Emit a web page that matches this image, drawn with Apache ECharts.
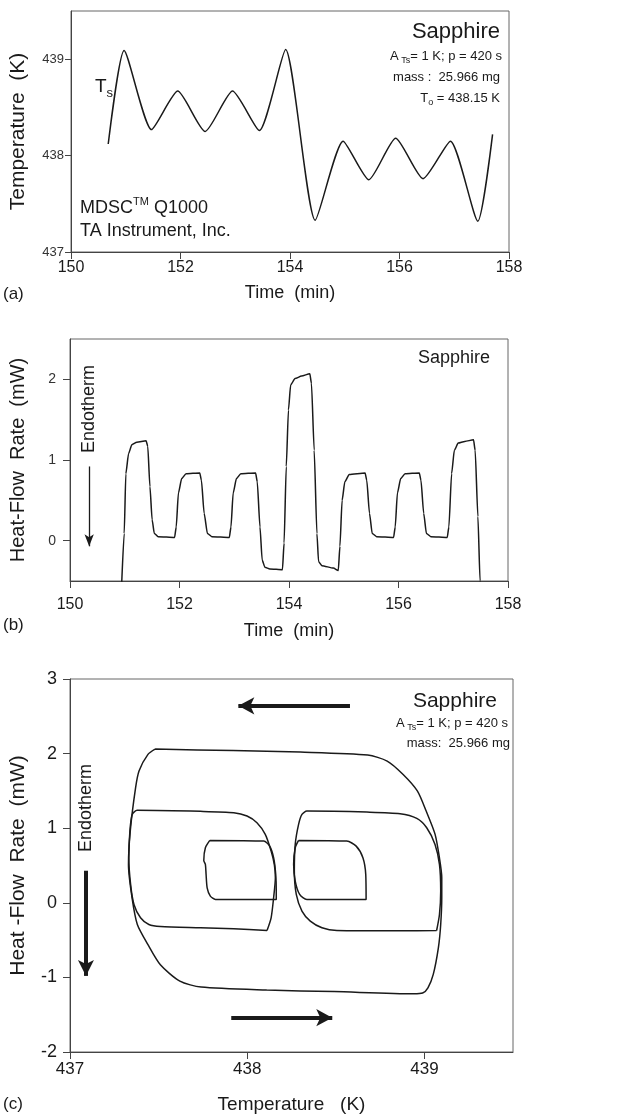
<!DOCTYPE html>
<html>
<head>
<meta charset="utf-8">
<script src="https://cdn.jsdelivr.net/npm/echarts@6/dist/echarts.min.js"></script>
<style>
html, body { margin: 0; padding: 0; background: #fff; }
#chart { width: 628px; height: 1118px; }
</style>
</head>
<body>
<div id="chart"></div>
<script>
//== (a) sample temperature Ts vs time
var tsTime = [150.68, 150.97, 151.47, 151.95, 152.45, 152.95, 153.44, 153.92, 154.46, 154.97, 155.44, 155.93, 156.43, 156.93, 157.43, 157.70];
var tsTemp = [438.12, 439.09, 438.27, 438.67, 438.25, 438.67, 438.26, 439.10, 437.33, 438.15, 437.75, 438.18, 437.76, 438.15, 437.32, 438.22];

//== (b) heat-flow rate vs time
var hfTime = [150.94, 150.99, 151.02, 151.07, 151.13, 151.22, 151.39, 151.42, 151.46, 151.50, 151.54, 151.61, 151.91,
    151.94, 151.98, 152.04, 152.12, 152.37, 152.40, 152.45, 152.51, 152.59, 152.91,
    152.94, 152.98, 153.04, 153.12, 153.39, 153.42, 153.47, 153.51, 153.56, 153.65, 153.88,
    153.91, 153.95, 153.99, 154.03, 154.11, 154.23, 154.38, 154.41, 154.46, 154.51, 154.54, 154.60, 154.81, 154.90,
    154.93, 154.97, 155.02, 155.10, 155.39, 155.42, 155.47, 155.52, 155.60, 155.91,
    155.94, 155.98, 156.04, 156.12, 156.38, 156.41, 156.46, 156.51, 156.59, 156.89,
    156.92, 156.97, 157.02, 157.09, 157.21, 157.37, 157.40, 157.45, 157.49, 157.50];
var hfRate = [-0.60, 0.09, 0.83, 1.08, 1.19, 1.22, 1.24, 1.17, 0.67, 0.26, 0.09, 0.05, 0.04,
    0.17, 0.59, 0.77, 0.83, 0.84, 0.75, 0.34, 0.09, 0.05, 0.04,
    0.17, 0.59, 0.77, 0.83, 0.84, 0.73, 0.17, -0.24, -0.33, -0.35, -0.36,
    -0.03, 0.92, 1.62, 1.93, 2.01, 2.04, 2.07, 1.95, 1.12, 0.09, -0.26, -0.31, -0.34, -0.37,
    -0.07, 0.50, 0.73, 0.82, 0.84, 0.75, 0.34, 0.09, 0.05, 0.04,
    0.17, 0.59, 0.77, 0.83, 0.84, 0.75, 0.34, 0.09, 0.05, 0.04,
    0.17, 0.83, 1.12, 1.21, 1.23, 1.25, 1.12, 0.30, -0.50, -0.65];

//== (c) heat-flow rate vs sample temperature, one pair of arrays per loop
var outerT = [437.48, 437.92, 438.30, 438.68, 438.79, 438.88, 438.96, 439.01, 439.06, 439.085, 439.098, 439.098, 439.092, 439.079, 439.05, 439.02, 438.99, 438.94, 438.49, 438.11, 437.74, 437.62, 437.51, 437.44, 437.38, 437.35, 437.33, 437.34, 437.37, 437.39, 437.44, 437.48];
var outerHF = [2.06, 2.04, 2.02, 1.98, 1.90, 1.72, 1.50, 1.23, 0.92, 0.60, 0.34, 0.07, -0.29, -0.60, -0.96, -1.14, -1.21, -1.22, -1.19, -1.17, -1.13, -1.05, -0.83, -0.56, -0.29, 0.07, 0.51, 0.96, 1.54, 1.77, 1.99, 2.06];

var midLeftT = [438.112, 438.135, 438.149, 438.159, 438.153, 438.135, 438.102, 438.055, 437.999, 437.924, 437.736, 437.379, 437.351, 437.338, 437.332, 437.342, 437.361, 437.398, 437.445, 437.511, 437.736, 437.924, 438.112];
var midLeftHF = [-0.371, -0.201, 0.067, 0.335, 0.514, 0.693, 0.917, 1.073, 1.163, 1.208, 1.226, 1.239, 1.185, 0.962, 0.604, 0.246, -0.022, -0.201, -0.291, -0.318, -0.335, -0.349, -0.371];

var midRightT = [439.069, 439.085, 439.092, 439.085, 439.060, 439.013, 438.957, 438.863, 438.675, 438.337, 438.309, 438.290, 438.271, 438.266, 438.277, 438.309, 438.356, 438.422, 438.506, 438.863, 439.069];
var midRightHF = [-0.371, -0.157, 0.157, 0.514, 0.783, 1.006, 1.131, 1.194, 1.216, 1.230, 1.185, 1.051, 0.783, 0.425, 0.112, -0.112, -0.246, -0.335, -0.371, -0.376, -0.371];

var innerLeftT = [437.789, 438.093, 438.127, 438.149, 438.161, 438.164, 438.164, 437.821, 437.792, 437.774, 437.768, 437.764, 437.755, 437.764, 437.789];
var innerLeftHF = [0.836, 0.827, 0.760, 0.604, 0.380, 0.157, 0.045, 0.045, 0.089, 0.201, 0.380, 0.514, 0.568, 0.738, 0.836];

var innerRightT = [438.290, 438.562, 438.615, 438.653, 438.669, 438.671, 438.337, 438.296, 438.271, 438.262, 438.271, 438.290];
var innerRightHF = [0.836, 0.827, 0.760, 0.604, 0.380, 0.045, 0.045, 0.112, 0.291, 0.514, 0.738, 0.836];

var timeTicks = [150, 152, 154, 156, 158];
var tempTicksA = [437, 438, 439];
var hfTicksB = [0, 1, 2];
var tempTicksC = [437, 438, 439];

var FONT = 'Liberation Sans, Arial, Helvetica, sans-serif';
var INK = '#1a1a1a';

var pairs = function (xs, ys) {
    return xs.map(function (x, i) { return [x, ys[i]]; });
};

var xTimeAxis = function (idx, gap, labelMargin) {
    return {
        gridIndex: idx, type: 'value', min: 150, max: 158, interval: 2,
        axisLine: {onZero: false, lineStyle: {color: '#444', width: 1}},
        axisTick: {length: 7, customValues: timeTicks, lineStyle: {color: '#444'}},
        axisLabel: {fontSize: 16, color: INK, margin: labelMargin, customValues: timeTicks, fontFamily: FONT},
        splitLine: {show: false},
        name: 'Time  (min)', nameLocation: 'middle', nameGap: gap,
        nameTextStyle: {fontSize: 18, color: INK, fontFamily: FONT}
    };
};

var lineSeries = function (xi, data, smooth) {
    return {
        type: 'line', xAxisIndex: xi, yAxisIndex: xi, data: data,
        smooth: smooth, symbol: 'none', silent: true,
        lineStyle: {color: INK, width: 1.5}
    };
};

var textEl = function (x, y, text, size, align, extra) {
    var el = {
        type: 'text', x: x, y: y,
        style: {
            text: text, fontSize: size, fontFamily: FONT, fill: INK,
            align: align || 'left', verticalAlign: 'middle'
        }
    };
    if (extra) {
        for (var k in extra) { el.style[k] = extra[k]; }
    }
    return el;
};

var subRich = function (size) {
    return {
        n: {fontSize: size, lineHeight: size + 6, fontFamily: FONT, fill: INK},
        sub: {fontSize: Math.round(size * 0.7), lineHeight: Math.round(size * 0.7), verticalAlign: 'bottom', fontFamily: FONT, fill: INK},
        sup: {fontSize: Math.round(size * 0.6), lineHeight: Math.round(size * 0.6), verticalAlign: 'top', fontFamily: FONT, fill: INK}
    };
};

var arrowLine = function (x0, y0, x1, y1, width, size) {
    return [{coord: [x0, y0], symbol: 'none'}, {coord: [x1, y1], symbol: 'arrow', symbolSize: size,
        lineStyle: {color: INK, width: width, type: 'solid'}}];
};

var chart = echarts.init(document.getElementById('chart'), null, {renderer: 'canvas'});

var option = {
    animation: false,
    backgroundColor: '#fff',
    textStyle: {fontFamily: FONT},
    grid: [
        {left: 71, top: 11, width: 438, height: 241, show: true, borderColor: '#666', borderWidth: 1},
        {left: 70, top: 339, width: 438, height: 242, show: true, borderColor: '#666', borderWidth: 1},
        {left: 69, top: 679, width: 444, height: 373, show: true, borderColor: '#666', borderWidth: 1}
    ],
    xAxis: [
        xTimeAxis(0, 32, 8),
        xTimeAxis(1, 41, 16),
        {
            gridIndex: 2, type: 'value', min: 437, max: 439.5,
            axisLine: {onZero: false, lineStyle: {color: '#444'}},
            axisTick: {length: 7, customValues: tempTicksC, lineStyle: {color: '#444'}},
            axisLabel: {fontSize: 17, color: INK, margin: 9, customValues: tempTicksC, fontFamily: FONT},
            splitLine: {show: false},
            name: 'Temperature   (K)', nameLocation: 'middle', nameGap: 43,
            nameTextStyle: {fontSize: 19, color: INK, fontFamily: FONT}
        }
    ],
    yAxis: [
        {
            gridIndex: 0, type: 'value', min: 437, max: 439.5,
            axisLine: {onZero: false, lineStyle: {color: '#444'}},
            axisTick: {length: 6, customValues: tempTicksA, lineStyle: {color: '#444'}},
            axisLabel: {fontSize: 13, color: '#333', margin: 7, customValues: tempTicksA, fontFamily: FONT},
            splitLine: {show: false},
            name: 'Temperature  (K)', nameLocation: 'middle', nameGap: 42,
            nameTextStyle: {fontSize: 21, color: INK, fontFamily: FONT}
        },
        {
            gridIndex: 1, type: 'value', min: -0.5, max: 2.5,
            axisLine: {onZero: false, lineStyle: {color: '#444'}},
            axisTick: {length: 7, customValues: hfTicksB, lineStyle: {color: '#444'}},
            axisLabel: {fontSize: 14, color: '#333', margin: 14, customValues: hfTicksB, fontFamily: FONT},
            splitLine: {show: false},
            name: 'Heat-Flow  Rate  (mW)', nameLocation: 'middle', nameGap: 42,
            nameTextStyle: {fontSize: 20, color: INK, fontFamily: FONT}
        },
        {
            gridIndex: 2, type: 'value', min: -2, max: 3, interval: 1,
            axisLine: {onZero: false, lineStyle: {color: '#444'}},
            axisTick: {length: 7, lineStyle: {color: '#444'}},
            axisLabel: {fontSize: 18, color: INK, margin: 13, fontFamily: FONT},
            splitLine: {show: false},
            name: 'Heat -Flow  Rate  (mW)', nameLocation: 'middle', nameGap: 41,
            nameTextStyle: {fontSize: 21, color: INK, fontFamily: FONT}
        }
    ],
    series: [
        lineSeries(0, pairs(tsTime, tsTemp), 0.2),
        (function () {
            var s = lineSeries(1, pairs(hfTime, hfRate), 0.2);
            s.smoothMonotone = 'x';
            s.markLine = {
                silent: true, symbol: ['none', 'arrow'],
                label: {show: false},
                lineStyle: {color: INK, width: 1.3, type: 'solid'},
                data: [arrowLine(150.35, 0.92, 150.35, -0.07, 1.3, [7, 12])]
            };
            return s;
        })(),
        (function () {
            var s = lineSeries(2, pairs(outerT, outerHF), 0.25);
            s.markLine = {
                silent: true, symbol: ['none', 'arrow'],
                label: {show: false},
                lineStyle: {color: INK, width: 4, type: 'solid'},
                data: [
                    arrowLine(438.58, 2.64, 437.95, 2.64, 4, [13, 16]),
                    arrowLine(437.91, -1.54, 438.48, -1.54, 4, [13, 16]),
                    arrowLine(437.09, 0.43, 437.09, -0.98, 4, [12, 16])
                ]
            };
            return s;
        })(),
        lineSeries(2, pairs(midLeftT, midLeftHF), 0.25),
        lineSeries(2, pairs(midRightT, midRightHF), 0.25),
        lineSeries(2, pairs(innerLeftT, innerLeftHF), 0.25),
        lineSeries(2, pairs(innerRightT, innerRightHF), 0.25)
    ],
    graphic: [
        // panel (a)
        textEl(500, 32, 'Sapphire', 22, 'right'),
        textEl(502, 56, '{n|A}{sub| Ts}{n|= 1 K; p = 420 s}', 13, 'right', {rich: subRich(13)}),
        textEl(500, 77, 'mass :  25.966 mg', 13, 'right'),
        textEl(500, 98, '{n|T}{sub|o}{n| = 438.15 K}', 13, 'right', {rich: subRich(13)}),
        textEl(95, 87, '{n|T}{sub|s}', 19, 'left', {rich: subRich(19)}),
        textEl(80, 208, '{n|MDSC}{sup|TM}{n| Q1000}', 18, 'left', {rich: subRich(18)}),
        textEl(80, 231, 'TA Instrument, Inc.', 18, 'left'),
        textEl(3, 294, '(a)', 17, 'left'),
        // panel (b)
        textEl(490, 358, 'Sapphire', 18, 'right'),
        textEl(89, 409, 'Endotherm', 18, 'center', {}),
        textEl(3, 625, '(b)', 17, 'left'),
        // panel (c)
        textEl(497, 701, 'Sapphire', 21, 'right'),
        textEl(508, 723, '{n|A}{sub| Ts}{n|= 1 K; p = 420 s}', 13, 'right', {rich: subRich(13)}),
        textEl(510, 743, 'mass:  25.966 mg', 13, 'right'),
        textEl(86, 808, 'Endotherm', 18, 'center', {}),
        textEl(3, 1104, '(c)', 17, 'left')
    ]
};

// rotate the two "Endotherm" labels
option.graphic[9].rotation = Math.PI / 2;
option.graphic[14].rotation = Math.PI / 2;

chart.setOption(option);
</script>
</body>
</html>
